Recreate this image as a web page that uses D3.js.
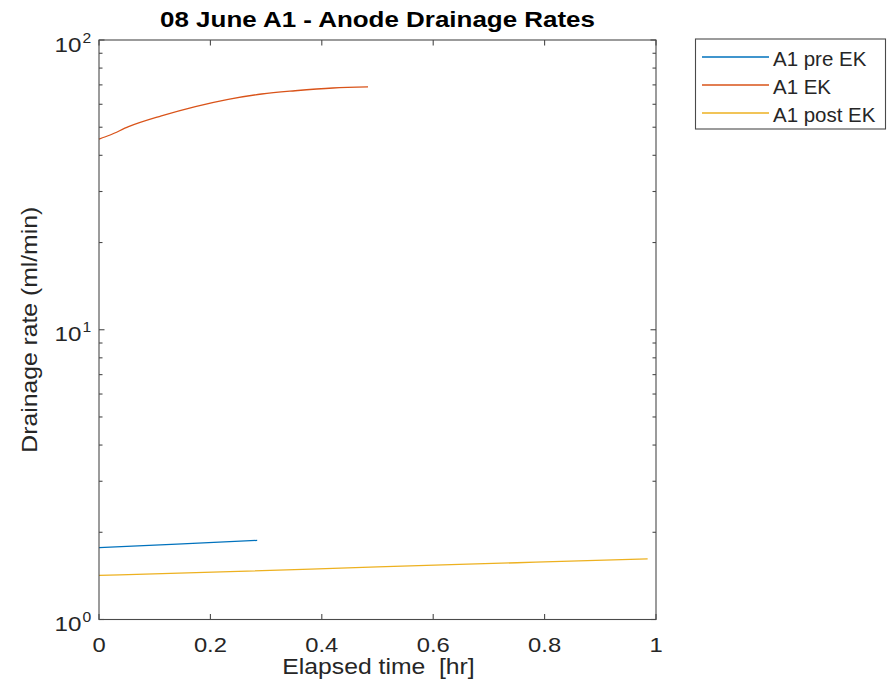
<!DOCTYPE html>
<html>
<head>
<meta charset="utf-8">
<script src="https://cdn.jsdelivr.net/npm/d3@7/dist/d3.min.js"></script>
<style>
  body { margin: 0; background: #fff; }
  svg { display: block; font-family: "Liberation Sans", Arial, sans-serif; }
</style>
</head>
<body>
<svg id="chart" width="888" height="690"></svg>
<script>
// series (time in hr, rate in ml/min)
const preTime = [0, 0.14, 0.284];
const preRate = [1.77, 1.82, 1.875];

const ekTime = [0, 0.02, 0.053, 0.112, 0.173, 0.232, 0.292, 0.352, 0.42, 0.483];
const ekRate = [45.5, 47.0, 50.2, 54.7, 58.9, 62.4, 65.1, 66.8, 68.3, 68.9];

const postTime = [0, 0.25, 0.5, 0.75, 0.985];
const postRate = [1.42, 1.465, 1.52, 1.57, 1.62];

const seriesNames = ['A1 pre EK', 'A1 EK', 'A1 post EK'];
const seriesColors = ['#0072BD', '#D95319', '#EDB120'];
const xTicks = [0, 0.2, 0.4, 0.6, 0.8, 1];
const yMajor = [1, 10, 100];
const yExp = ['0', '1', '2'];

const plot = { left: 99, right: 656, top: 40, bottom: 619.5 };
const ink = '#262626';
const axisInk = '#4a4a4a';

const svg = d3.select('#chart');
const x = d3.scaleLinear().domain([0, 1]).range([plot.left, plot.right]);
const y = d3.scaleLog().domain([1, 100]).range([plot.bottom, plot.top]);

// the reference text is drawn a little wider than Arial, so stretch it
function label(parent, px, py, str, size, sx, opts = {}) {
  const rot = opts.rotate ? ` rotate(${opts.rotate})` : '';
  return parent.append('text')
    .attr('transform', `translate(${px},${py})${rot} scale(${sx},1)`)
    .attr('text-anchor', opts.anchor || 'start')
    .attr('font-size', size)
    .attr('font-weight', opts.weight || 'normal')
    .attr('fill', opts.fill || ink)
    .attr('xml:space', 'preserve')
    .text(str);
}

// minor ticks 2..9 in each decade
const yMinor = [];
for (const d of [1, 10]) for (let k = 2; k <= 9; k++) yMinor.push(d * k);

const series = [
  preTime.map((t, i) => [t, preRate[i]]),
  ekTime.map((t, i) => [t, ekRate[i]]),
  postTime.map((t, i) => [t, postRate[i]]),
];

const line = d3.line()
  .x(d => x(d[0]))
  .y(d => y(d[1]))
  .curve(d3.curveMonotoneX);

svg.append('g').selectAll('path')
  .data(series).join('path')
  .attr('d', line)
  .attr('fill', 'none')
  .attr('stroke', (d, i) => seriesColors[i])
  .attr('stroke-width', 1.3);

// axes box and ticks
const ax = svg.append('g').attr('stroke', axisInk).attr('stroke-width', 1.1).attr('fill', 'none');
ax.append('rect')
  .attr('x', plot.left).attr('y', plot.top)
  .attr('width', plot.right - plot.left).attr('height', plot.bottom - plot.top);

const tickLen = 5.5, minorLen = 3.5;
xTicks.forEach(t => {
  ax.append('line').attr('x1', x(t)).attr('x2', x(t)).attr('y1', plot.bottom).attr('y2', plot.bottom - tickLen);
  ax.append('line').attr('x1', x(t)).attr('x2', x(t)).attr('y1', plot.top).attr('y2', plot.top + tickLen);
});
yMajor.forEach(v => {
  ax.append('line').attr('x1', plot.left).attr('x2', plot.left + tickLen).attr('y1', y(v)).attr('y2', y(v));
  ax.append('line').attr('x1', plot.right).attr('x2', plot.right - tickLen).attr('y1', y(v)).attr('y2', y(v));
});
yMinor.forEach(v => {
  ax.append('line').attr('x1', plot.left).attr('x2', plot.left + minorLen).attr('y1', y(v)).attr('y2', y(v));
  ax.append('line').attr('x1', plot.right).attr('x2', plot.right - minorLen).attr('y1', y(v)).attr('y2', y(v));
});

// tick labels
const tl = svg.append('g');
xTicks.forEach(t => label(tl, x(t), 652.3, d3.format('~g')(t), 20.5, 1.16, { anchor: 'middle' }));

yMajor.forEach((v, i) => {
  label(tl, 81.5, y(v) + 11.7, '10', 20.5, 1.18, { anchor: 'end' });
  label(tl, 82.5, y(v) + 2.7, yExp[i], 14, 1.12);
});

// title and axis labels
const cx = (plot.left + plot.right) / 2;
label(svg, cx, 27.3, '08 June A1 - Anode Drainage Rates', 22, 1.18, { anchor: 'middle', weight: 'bold', fill: '#000' });
label(svg, cx + 1, 674.3, 'Elapsed time  [hr]', 21.5, 1.15, { anchor: 'middle' });
label(svg, 36.7, (plot.top + plot.bottom) / 2, 'Drainage rate (ml/min)', 21.5, 1.15, { anchor: 'middle', rotate: -90 });

// legend
const lg = svg.append('g');
lg.append('rect')
  .attr('x', 695.5).attr('y', 39)
  .attr('width', 190).attr('height', 90)
  .attr('fill', '#fff').attr('stroke', axisInk).attr('stroke-width', 1.1);
seriesNames.forEach((name, i) => {
  const ry = 57 + i * 28;
  lg.append('line')
    .attr('x1', 702).attr('x2', 769).attr('y1', ry).attr('y2', ry)
    .attr('stroke', seriesColors[i]).attr('stroke-width', 1.3);
  label(lg, 773, ry + 9, name, 19.5, 1.05);
});
</script>
</body>
</html>
